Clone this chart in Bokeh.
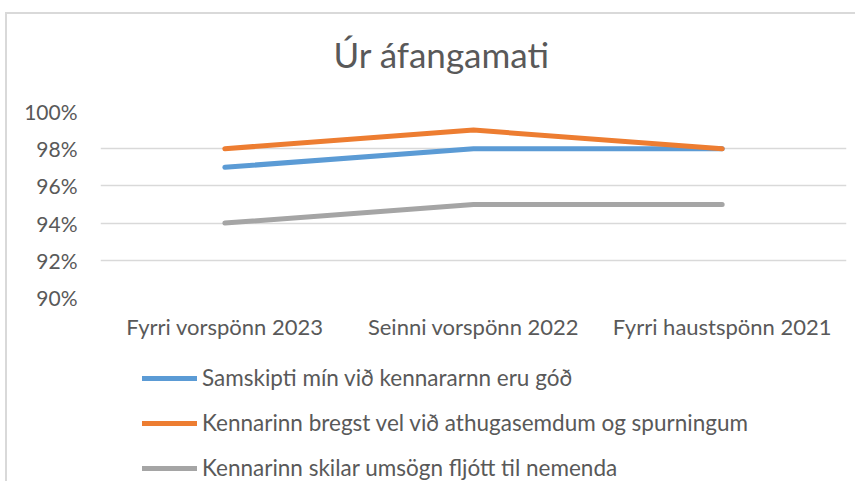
from bokeh.plotting import figure
from bokeh.layouts import column
from bokeh.models import FactorRange, Range1d, NumeralTickFormatter, FixedTicker, Legend, LegendItem
from bokeh.embed import file_html
from bokeh.resources import INLINE

categories = ["Fyrri vorspönn 2023", "Seinni vorspönn 2022", "Fyrri haustspönn 2021"]
series_names = [
    "Samskipti mín við kennararnn eru góð",
    "Kennarinn bregst vel við athugasemdum og spurningum",
    "Kennarinn skilar umsögn fljótt til nemenda",
]
samskipti = [0.97, 0.98, 0.98]
bregst = [0.98, 0.99, 0.98]
skilar = [0.94, 0.95, 0.95]
y_ticks = [0.90, 0.92, 0.94, 0.96, 0.98, 1.00]
colors = ["#5B9BD5", "#ED7D31", "#A5A5A5"]
series = [samskipti, bregst, skilar]
title_text = "Úr áfangamati"

FONT = "Lato"
TXT = "#595959"
W = 848


def blank(fig):
    fig.outline_line_color = None
    fig.xgrid.grid_line_color = None
    fig.ygrid.grid_line_color = None


# ---- title strip ----
t = figure(
    width=W, height=82,
    x_range=FactorRange(*categories, range_padding=0),
    y_range=Range1d(0.0, 1.0),
    output_backend="svg", toolbar_location=None,
    x_axis_type=None, y_axis_type=None,
    min_border_left=0, min_border_right=0, min_border_top=0, min_border_bottom=0,
)
blank(t)
t.title.text = title_text
t.title.align = "left"
t.title.offset = 233
t.title.vertical_align = "top"
t.title.text_font = FONT
t.title.text_font_size = "35px"
t.title.text_font_style = "normal"
t.title.text_color = TXT
t.title.standoff = 36

# ---- main chart ----
p = figure(
    width=W, height=246,
    x_range=FactorRange(*categories, range_padding=0),
    y_range=Range1d(0.90, 1.00),
    output_backend="svg", toolbar_location=None,
    min_border_left=93, min_border_right=9, min_border_top=15, min_border_bottom=45,
)
p.outline_line_color = None

for vals, c in zip(series, colors):
    p.line(categories, vals, line_color=c, line_width=5, line_cap="round", line_join="round")

p.yaxis.ticker = FixedTicker(ticks=y_ticks)
p.yaxis.formatter = NumeralTickFormatter(format="0%")
for ax in (p.xaxis[0], p.yaxis[0]):
    ax.axis_line_color = None
    ax.major_tick_line_color = None
    ax.minor_tick_line_color = None
    ax.major_label_text_font = FONT
    ax.major_label_text_color = TXT
p.yaxis.major_label_text_font_size = "21px"
p.xaxis.major_label_text_font_size = "22px"
p.yaxis.major_label_standoff = 17
p.xaxis.major_tick_out = 0
p.xaxis.major_tick_in = 0
p.xaxis.major_label_standoff = 15

p.xgrid.grid_line_color = None
p.ygrid.grid_line_color = "#d9d9d9"
p.ygrid.grid_line_width = 1.5

# ---- legend strip (same series, drawn outside its visible range; only the legend shows) ----
q = figure(
    width=W, height=139,
    x_range=FactorRange(*categories, range_padding=0),
    y_range=Range1d(0.0, 0.5),
    output_backend="svg", toolbar_location=None,
    x_axis_type=None, y_axis_type=None,
    min_border_left=0, min_border_right=0, min_border_top=0, min_border_bottom=0,
)
blank(q)
leg_renderers = []
for vals, c in zip(series, colors):
    r = q.line(categories, vals, line_color=c, line_width=5, line_cap="round")
    leg_renderers.append(r)

legend = Legend(
    items=[LegendItem(label=n, renderers=[r]) for n, r in zip(series_names, leg_renderers)],
    location=(42, 0),
    orientation="vertical",
    glyph_width=55, glyph_height=26, label_height=26, spacing=18,
    label_standoff=5, padding=0, margin=0,
    label_text_font=FONT, label_text_font_size="22.5px", label_text_color=TXT,
    border_line_color=None, background_fill_alpha=0,
)
q.add_layout(legend, "center")

layout = column(t, p, q, spacing=0)
layout.styles = {"border-top": "2px solid #d9d9d9", "border-left": "2px solid #d9d9d9",
                 "margin-top": "12px", "margin-left": "5px"}

open("out.html", "w").write(file_html(layout, INLINE))
